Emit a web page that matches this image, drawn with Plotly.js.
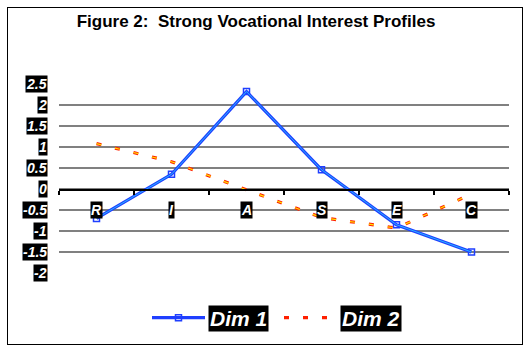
<!DOCTYPE html>
<html>
<head>
<meta charset="utf-8">
<script src="https://cdn.plot.ly/plotly-3.0.1.min.js"></script>
<style>
  html, body { margin: 0; padding: 0; background: #fff; }
  #wrap { position: relative; width: 529px; height: 351px; }
  #chart { width: 529px; height: 351px; }
  #frame { position: absolute; left: 7px; top: 7px; width: 514px; height: 336px;
           border: 1.5px solid #000; pointer-events: none; }
</style>
</head>
<body>
<div id="wrap">
  <div id="chart"></div>
  <div id="frame"></div>
</div>
<script>
// ---- data ----
const categories = ["R", "I", "A", "S", "E", "C"];
const dim1 = [-0.70, 0.35, 2.32, 0.46, -0.85, -1.50];
const dim2 = [1.08, 0.65, -0.02, -0.68, -0.93, -0.12];
const yTicks = [2.5, 2, 1.5, 1, 0.5, 0, -0.5, -1, -1.5, -2];
const yTickLabels = ["2.5", "2", "1.5", "1", "0.5", "0", "-0.5", "-1", "-1.5", "-2"];
const seriesNames = ["Dim 1", "Dim 2"];
const titleText = "Figure 2:  Strong Vocational Interest Profiles";

const FONT = "Liberation Sans, Arial, sans-serif";
const boxFont = (size) => ({ family: FONT, size: size, color: "#fff", weight: "bold", style: "italic" });

const data = [
  { x: categories, y: dim1, name: seriesNames[0], type: "scatter", mode: "lines+markers",
    line: { color: "#1f3fff", width: 3.2 },
    marker: { symbol: "square-open", size: 6, color: "#1f3fff", line: { width: 1.5, color: "#1f3fff" } } },
  { x: categories, y: dim1, name: seriesNames[0], type: "scatter", mode: "lines",
    line: { color: "rgba(40,210,255,0.8)", width: 1 }, showlegend: false, hoverinfo: "skip" },
  { x: categories, y: dim2, name: seriesNames[1], type: "scatter", mode: "lines",
    line: { color: "#ff2000", width: 3.2, dash: "5px,14px" } },
  { x: categories, y: dim2, name: seriesNames[1], type: "scatter", mode: "lines",
    line: { color: "#ffe000", width: 1.2, dash: "5px,14px" }, showlegend: false, hoverinfo: "skip" },
  // invisible helper on the crossing axis so its boundary ticks render
  { x: [0], y: [0], xaxis: "x2", type: "scatter", mode: "markers", marker: { opacity: 0 },
    showlegend: false, hoverinfo: "skip" }
];

const yMin = Math.min(...yTicks), yMax = Math.max(...yTicks);

const annotations = [];
yTicks.forEach((v, i) => {
  annotations.push({ xref: "paper", yref: "y", x: 0, y: v, xanchor: "right", yanchor: "middle",
    xshift: -11, text: yTickLabels[i], showarrow: false, bgcolor: "#000", borderpad: 0,
    font: boxFont(14) });
});
categories.forEach((c) => {
  annotations.push({ xref: "x", yref: "y", x: c, y: 0, xanchor: "center", yanchor: "top",
    yshift: -12, text: c, showarrow: false, bgcolor: "#000", borderpad: 0, font: boxFont(14) });
});

const layout = {
  width: 529, height: 351,
  margin: { l: 59, r: 20, t: 84, b: 74 },
  paper_bgcolor: "#fff", plot_bgcolor: "#fff",
  title: { text: titleText, font: { family: FONT, size: 17, color: "#000", weight: "bold" },
           xref: "container", yref: "container", x: 0.484, y: 1 - 21.5 / 351,
           xanchor: "center", yanchor: "middle" },
  xaxis: { type: "category", range: [-0.5, categories.length - 0.5], showgrid: false,
           showticklabels: false, showline: false, zeroline: false, ticks: "", fixedrange: true },
  xaxis2: { overlaying: "x", anchor: "free", position: (0 - yMin) / (yMax - yMin),
            range: [-0.5, categories.length - 0.5], showgrid: false, zeroline: false,
            showline: true, linecolor: "#000", linewidth: 1.5,
            tickmode: "array", tickvals: categories.map((_, i) => i - 0.5).concat([categories.length - 0.5]),
            ticks: "outside", ticklen: 4, tickwidth: 1.2, tickcolor: "#000",
            showticklabels: false },
  yaxis: { range: [yMin, yMax], tickmode: "array", tickvals: yTicks, showticklabels: false,
           showgrid: true, gridcolor: "#808080", gridwidth: 1.2, zeroline: false,
           showline: false, ticks: "" },
  showlegend: true,
  legend: { orientation: "h", xref: "paper", yref: "paper", x: (152 - 59 - 5) / 450, xanchor: "left",
            y: -0.238, yanchor: "middle", font: { family: FONT, size: 21, color: "#fff", weight: "bold", style: "italic" },
            bgcolor: "rgba(0,0,0,0)", itemwidth: 53, entrywidth: 64, tracegroupgap: 0 },
  annotations: annotations
};

const gd = document.getElementById("chart");
Plotly.newPlot(gd, data, layout, { staticPlot: true, displayModeBar: false }).then(() => {
  const size = gd._fullLayout._size;
  const svgRect = gd.querySelector(".main-svg").getBoundingClientRect();
  const extra = [];
  gd.querySelectorAll(".legend .legendtext").forEach((t) => {
    const r = t.getBoundingClientRect();
    const cx = r.left + r.width / 2 - svgRect.left;
    const cy = r.top + r.height / 2 - svgRect.top;
    extra.push({ xref: "paper", yref: "paper", x: (cx - size.l) / size.w, y: 1 - (cy - size.t) / size.h,
      xanchor: "center", yanchor: "middle", text: t.textContent, showarrow: false,
      bgcolor: "#000", borderpad: 1, font: boxFont(21) });
  });
  return Plotly.relayout(gd, { annotations: annotations.concat(extra) });
});
</script>
</body>
</html>
